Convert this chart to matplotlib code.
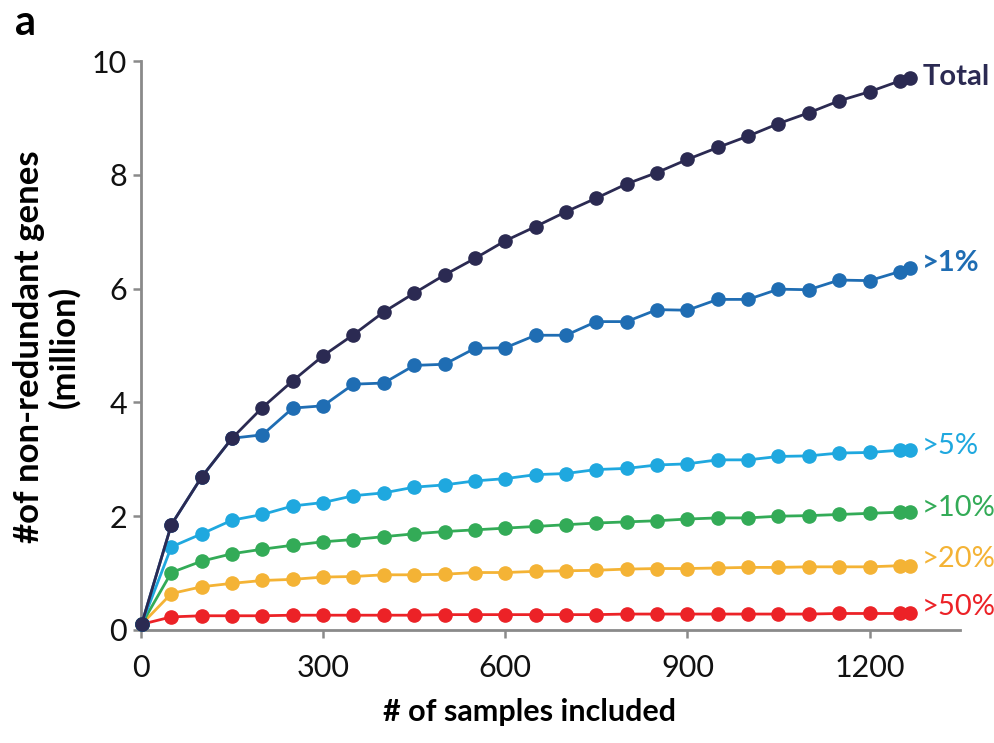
"""Gene catalogue saturation curve: non-redundant genes vs number of samples."""

import matplotlib
matplotlib.use("Agg")
import matplotlib.pyplot as plt

# number of samples included (x positions of the points)
samples = [1, 50, 100, 150, 200, 250, 300, 350, 400, 450, 500, 550, 600,
           650, 700, 750, 800, 850, 900, 950, 1000, 1050, 1100, 1150, 1200,
           1250, 1267]

# non-redundant genes (million), per occurrence threshold
total = [0.10, 1.85, 2.69, 3.37, 3.91, 4.38, 4.82, 5.19, 5.59, 5.92, 6.24,
         6.53, 6.84, 7.09, 7.35, 7.59, 7.84, 8.04, 8.27, 8.48, 8.68, 8.90,
         9.09, 9.30, 9.46, 9.65, 9.71]
gt1 = [0.10, 1.85, 2.69, 3.37, 3.43, 3.90, 3.94, 4.32, 4.34, 4.65, 4.67,
       4.95, 4.96, 5.18, 5.18, 5.42, 5.42, 5.63, 5.62, 5.81, 5.81, 5.99,
       5.98, 6.15, 6.14, 6.30, 6.36]
gt5 = [0.10, 1.46, 1.69, 1.93, 2.03, 2.18, 2.24, 2.36, 2.41, 2.51, 2.55,
       2.62, 2.66, 2.73, 2.75, 2.82, 2.84, 2.90, 2.92, 2.99, 2.99, 3.05,
       3.06, 3.11, 3.12, 3.16, 3.16]
gt10 = [0.10, 1.01, 1.21, 1.34, 1.42, 1.49, 1.55, 1.59, 1.64, 1.69, 1.73,
        1.76, 1.79, 1.82, 1.85, 1.88, 1.90, 1.92, 1.95, 1.97, 1.97, 2.00,
        2.01, 2.03, 2.05, 2.07, 2.07]
gt20 = [0.10, 0.64, 0.76, 0.82, 0.87, 0.89, 0.93, 0.94, 0.97, 0.97, 0.98,
        1.01, 1.01, 1.03, 1.04, 1.05, 1.07, 1.08, 1.08, 1.09, 1.10, 1.10,
        1.11, 1.11, 1.11, 1.13, 1.13]
gt50 = [0.10, 0.23, 0.25, 0.25, 0.25, 0.26, 0.26, 0.26, 0.26, 0.26, 0.27,
        0.27, 0.27, 0.27, 0.27, 0.27, 0.28, 0.28, 0.28, 0.28, 0.28, 0.28,
        0.28, 0.29, 0.29, 0.29, 0.29]

series_labels = ["Total", ">1%", ">5%", ">10%", ">20%", ">50%"]
x_ticks = [0, 300, 600, 900, 1200]
y_ticks = [0, 2, 4, 6, 8, 10]

plt.rcParams["font.family"] = ["Lato", "DejaVu Sans"]

series = [
    (gt50, "#ec2227", ">50%", 6),
    (gt20, "#f4b335", ">20%", 7),
    (gt10, "#33ab57", ">10%", 4),
    (gt5, "#1fa8df", ">5%", 4),
    (gt1, "#1f6db3", ">1%", 5),
    (total, "#2b2a52", "Total", 1),
]

fig = plt.figure(figsize=(9.95, 7.43), dpi=100)
ax = fig.add_axes([0.1417, 0.1521, 0.8231, 0.7658])

for z, (vals, color, label, dy) in enumerate(series):
    ax.plot(samples, vals, color=color, lw=2.0, marker="o", ms=9.5,
            clip_on=False, zorder=3 + z)
    weight = "bold" if label in ("Total", ">1%") else "normal"
    ax.annotate(label, (samples[-1], vals[-1]), xytext=(12, dy),
                textcoords="offset pixels", ha="left", va="center",
                color=color, fontsize=21, fontweight=weight,
                annotation_clip=False)

ax.set_xlim(0, 1349)
ax.set_ylim(0, 10)
ax.set_xticks(x_ticks)
ax.set_yticks(y_ticks)

for side in ("top", "right"):
    ax.spines[side].set_visible(False)
for side in ("left", "bottom"):
    ax.spines[side].set_color("#8a8a8a")
    ax.spines[side].set_linewidth(2.0)

ax.tick_params(axis="both", direction="out", length=6, width=1.8,
               color="#8a8a8a", labelsize=22, labelcolor="#111111")
ax.tick_params(axis="x", pad=11)
ax.tick_params(axis="y", pad=4)

fig.text(530 / 995, 1 - 712 / 743, "# of samples included", ha="center",
         va="center", fontsize=22, fontweight="bold")
fig.text(47 / 995, 1 - 347 / 743, "#of non-redundant genes\n(million)",
         rotation=90, ha="center", va="center", multialignment="center",
         fontsize=25, fontweight="bold", linespacing=1.1)
fig.text(25 / 995, 1 - 23 / 743, "a", ha="center", va="center",
         fontsize=30, fontweight="bold")

fig.savefig("out.png", dpi=100)
plt.close(fig)
